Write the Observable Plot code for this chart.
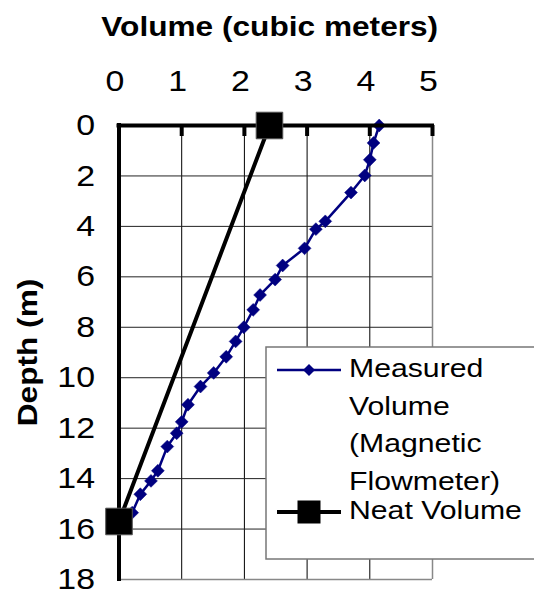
<!DOCTYPE html>
<html><head><meta charset="utf-8">
<script src="https://cdn.jsdelivr.net/npm/d3@7"></script>
<script src="https://cdn.jsdelivr.net/npm/@observablehq/plot@0.6"></script>
<style>
html,body{margin:0;padding:0;background:#fff;}
#chart{position:relative;width:534px;height:595px;}
</style></head><body><div id="chart"></div>
<script>
// Data
const depthMeasured = [0, 0.69, 1.36, 1.98, 2.66, 3.80, 4.11, 4.87, 5.55, 6.11, 6.72, 7.31, 8.0, 8.56, 9.17, 9.81, 10.35, 11.07, 11.75, 12.2, 12.73, 13.69, 14.09, 14.62, 15.35];
const volumeMeasured = [4.15, 4.06, 4.0, 3.92, 3.70, 3.29, 3.14, 2.96, 2.61, 2.49, 2.25, 2.14, 1.99, 1.86, 1.71, 1.51, 1.30, 1.10, 1.0, 0.92, 0.77, 0.62, 0.51, 0.34, 0.21];
const depthNeat = [0, 15.7];
const volumeNeat = [2.4, 0];
const xTicks = [0, 1, 2, 3, 4, 5];
const yTicks = [0, 2, 4, 6, 8, 10, 12, 14, 16, 18];
const xTitle = "Volume (cubic meters)";
const yTitle = "Depth (m)";
const legendMeasured = ["Measured", "Volume", "(Magnetic", "Flowmeter)"];
const legendNeat = "Neat Volume";

const measured = depthMeasured.map((d, i) => ({depth: d, volume: volumeMeasured[i]}));
const neat = depthNeat.map((d, i) => ({depth: d, volume: volumeNeat[i]}));

const W = 534, H = 595, mL = 118.5, mT = 125, mR = 102, mB = 16;
const font = "'Liberation Sans', Arial, sans-serif";
const navy = "#000080";

const plot = Plot.plot({
  width: W, height: H,
  marginLeft: mL, marginTop: mT, marginRight: mR, marginBottom: mB,
  x: {domain: [0, 5], axis: null},
  y: {domain: [0, 18], reverse: true, axis: null},
  style: {fontFamily: font, fontSize: "30px", background: "white", color: "black", overflow: "visible"},
  marks: [
    Plot.gridX(xTicks.filter(d => d > 0 && d < 5), {stroke: "#000", strokeOpacity: 1, strokeWidth: 1}),
    Plot.gridY(yTicks.filter(d => d > 0 && d < 18), {stroke: "#222", strokeOpacity: 1, strokeWidth: 1}),
    Plot.ruleX([5], {stroke: "#888", strokeWidth: 1.5}),
    Plot.ruleY([18], {stroke: "#888", strokeWidth: 1.5}),
    Plot.line(measured, {x: "volume", y: "depth", stroke: navy, strokeWidth: 2.5}),
    Plot.dot(measured, {x: "volume", y: "depth", symbol: "diamond2", r: 5.8, fill: navy, stroke: navy, strokeWidth: 0.5}),
    Plot.line(neat, {x: "volume", y: "depth", stroke: "#000", strokeWidth: 4}),
    Plot.ruleY([0], {stroke: "#000", strokeWidth: 4, strokeLinecap: "square"}),
    Plot.ruleX([0], {stroke: "#000", strokeWidth: 4, strokeLinecap: "square"}),
    Plot.ruleX(xTicks, {stroke: "#000", strokeWidth: 4, insetBottom: H - mT - mB - 11}),
    Plot.dot(neat, {x: "volume", y: "depth", symbol: "square", r: 15, fill: "#000", stroke: "#555", strokeWidth: 1}),
    // tick labels
    Plot.text(xTicks, {x: d => d, text: d => String(d), frameAnchor: "top", lineAnchor: "bottom", dy: -35, dx: -4, fontSize: 30}),
    Plot.text(yTicks, {y: d => d, text: d => String(d), frameAnchor: "left", textAnchor: "end", dx: -24, fontSize: 30}),
    // titles
    Plot.text([xTitle], {frameAnchor: "top", dy: -90, dx: -6, lineAnchor: "bottom", fontWeight: "bold", fontSize: 28}),
    Plot.text([yTitle], {frameAnchor: "left", textAnchor: "middle", rotate: -90, dx: -91, fontWeight: "bold", fontSize: 28})
  ]
});

// Horizontal stretch of the text, as in the reference
d3.select(plot).selectAll("text").each(function() {
  const t = this.getAttribute("transform");
  if (t) this.setAttribute("transform", t + " scale(1.13,1)");
});

// Legend
const lg = d3.select(plot).append("g").attr("font-family", font).attr("font-size", 26.5).attr("text-anchor", "start");
lg.append("rect").attr("x", 266).attr("y", 347).attr("width", 280).attr("height", 212)
  .attr("fill", "white").attr("stroke", "#777").attr("stroke-width", 1.5);
lg.append("line").attr("x1", 277).attr("x2", 341).attr("y1", 370).attr("y2", 370)
  .attr("stroke", navy).attr("stroke-width", 2.5);
lg.append("path").attr("d", "M309,364L315,370L309,376L303,370Z").attr("fill", navy);
legendMeasured.forEach((s, i) => {
  lg.append("text").attr("transform", `translate(349,${377 + i * 37.5}) scale(1.14,1)`).text(s);
});
lg.append("line").attr("x1", 277).attr("x2", 341).attr("y1", 512).attr("y2", 512)
  .attr("stroke", "#000").attr("stroke-width", 4);
lg.append("rect").attr("x", 297.5).attr("y", 500.5).attr("width", 23).attr("height", 23).attr("fill", "#000");
lg.append("text").attr("transform", "translate(349,519) scale(1.14,1)").text(legendNeat);

document.getElementById("chart").appendChild(plot);
</script>
</body></html>
